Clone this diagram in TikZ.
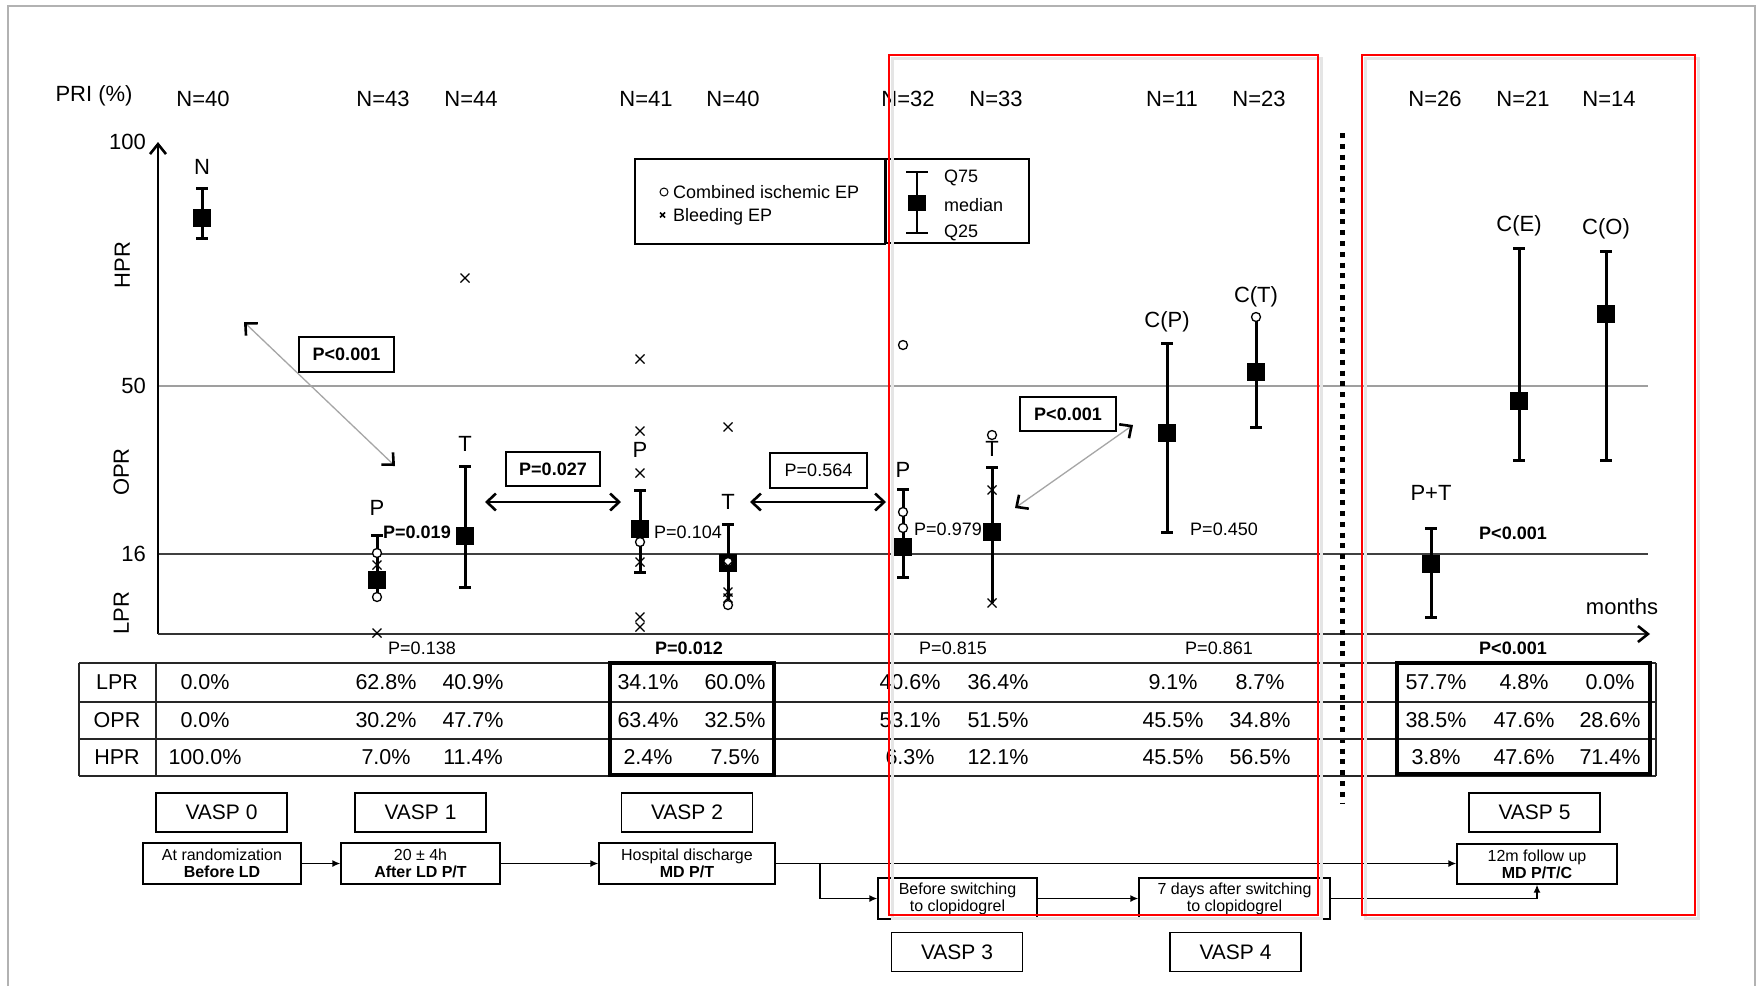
\documentclass[tikz,border=0pt]{standalone}
\usepackage{fontspec}
\setmainfont{Liberation Sans}
\usetikzlibrary{arrows.meta}
\newcommand\mkO[2]{\draw[line width=1.3pt,fill=white] (#1,#2) circle (4.5pt);}
\newcommand\mkX[2]{\draw[line width=1.2pt] (#1-4.5,#2-4.5)--(#1+4.5,#2+4.5) (#1-4.5,#2+4.5)--(#1+4.5,#2-4.5);}
\newcommand\wline[3]{\draw[whisk] (#1,#2)--(#1,#3);}
\newcommand\wcap[2]{\draw[whisk] (#1-6,#2)--(#1+6,#2);}
\newcommand\wmed[2]{\fill (#1-9,#2-9) rectangle (#1+9,#2+9);}
\newcommand\vals[4]{\node[val] (va#1) at (#1,682) {#2}; \node[val] (vb#1) at (#1,720) {#3}; \node[val] (vc#1) at (#1,757) {#4};}
\begin{document}
\begin{tikzpicture}[x=1pt,y=-1pt,
  whisk/.style={line width=3pt},
  lab/.style={font=\fontsize{22}{26}\selectfont, inner sep=0pt, text height=15.8pt, text depth=0pt},
  val/.style={font=\fontsize{21.5}{26}\selectfont, inner sep=0pt, text height=15.5pt, text depth=0pt},
  pv/.style={font=\fontsize{18}{22}\selectfont, inner sep=0pt, text height=13pt, text depth=0pt},
  pvb/.style={font=\fontsize{18}{22}\selectfont\bfseries, inner sep=0pt, text height=13pt, text depth=0pt},
  leg/.style={font=\fontsize{18}{22}\selectfont, inner sep=0pt, text height=13pt, text depth=0pt, anchor=west},
  pbox/.style={draw, line width=1.5pt, inner sep=0pt},
  vbox/.style={draw, line width=1.5pt, minimum width=131pt, minimum height=39pt, inner sep=0pt, font=\fontsize{21}{24}\selectfont},
  flowbox/.style={draw, line width=1.3pt, inner sep=0pt, align=center, font=\fontsize{16}{17}\selectfont},
  flow/.style={line width=1.4pt, -{Latex[length=8pt,width=7pt]}},
  barb/.style={{Straight Barb[length=9pt,width=17pt,line width=2.6pt,color=black]}-{Straight Barb[length=9pt,width=17pt,line width=2.6pt,color=black]}},
]
\useasboundingbox (0,0) rectangle (1758,986);
\fill[white] (0,0) rectangle (1758,986);
% outer frame
\draw[gray!60, line width=2pt] (8,986) -- (8,6) -- (1755,6) -- (1755,986);

% grid lines
\draw[gray!75, line width=2pt] (158,386) -- (1648,386);
\draw[black!75, line width=1.5pt] (158,554) -- (1648,554);
% axes
\draw[line width=2.2pt, -{Straight Barb[length=10pt,width=16pt,line width=2.6pt]}] (158,634) -- (158,142);
\draw[black!80, line width=2.2pt, -{Straight Barb[length=10pt,width=16pt,line width=2.6pt,color=black]}] (158,634) -- (1650,634);

% axis labels
\node[lab, anchor=east] (y100) at (146,142) {100};
\node[lab, anchor=east] (y50) at (146,386) {50};
\node[lab, anchor=east] (y16) at (146,554) {16};
\node[lab, rotate=90] (hpr) at (122,265) {HPR};
\node[lab, rotate=90] (opr) at (121,472) {OPR};
\node[lab, rotate=90] (lpr) at (121,613) {LPR};
\node[lab] (months) at (1622,607) {months};
\node[lab] (pri) at (94,94) {PRI (\%)};

% N labels
\node[lab] (n1) at (203,99) {N=40};
\node[lab] (n2) at (383,99) {N=43};
\node[lab] (n3) at (471,99) {N=44};
\node[lab] (n4) at (646,99) {N=41};
\node[lab] (n5) at (733,99) {N=40};
\node[lab] (n6) at (908,99) {N=32};
\node[lab] (n7) at (996,99) {N=33};
\node[lab] (n8) at (1172,99) {N=11};
\node[lab] (n9) at (1259,99) {N=23};
\node[lab] (n10) at (1435,99) {N=26};
\node[lab] (n11) at (1523,99) {N=21};
\node[lab] (n12) at (1609,99) {N=14};

% dotted separator
\draw[line width=5pt, dash pattern=on 5pt off 5.8pt] (1342,133) -- (1342,803);

% whiskers
\wline{202}{188}{238} \wcap{202}{188} \wcap{202}{238} \wmed{202}{218}
\wline{377}{535}{597} \wcap{377}{535} \wmed{377}{580}
\wline{465}{466}{587} \wcap{465}{466} \wcap{465}{587} \wmed{465}{536}
\wline{640}{490}{572} \wcap{640}{490} \wcap{640}{572} \wmed{640}{529}
\wline{728}{524}{600} \wcap{728}{524} \wmed{728}{563}
\wline{903}{489}{577} \wcap{903}{489} \wcap{903}{577} \wmed{903}{547}
\wline{992}{467}{603} \wcap{992}{467} \wmed{992}{532}
\wline{1167}{343}{532} \wcap{1167}{343} \wcap{1167}{532} \wmed{1167}{433}
\wline{1256}{317}{427} \wcap{1256}{427} \wmed{1256}{372}
\wline{1431}{528}{617} \wcap{1431}{528} \wcap{1431}{617} \wmed{1431}{564}
\wline{1519}{248}{460} \wcap{1519}{248} \wcap{1519}{460} \wmed{1519}{401}
\wline{1606}{251}{460} \wcap{1606}{251} \wcap{1606}{460} \wmed{1606}{314}

% markers
\mkO{377}{553} \mkX{377}{565} \mkO{377}{597} \mkX{377}{633}
\mkX{465}{278}
\mkX{640}{359} \mkX{640}{431} \mkX{640}{473} \mkO{640}{542} \mkX{640}{562} \mkX{640}{617} \mkX{640}{627}
\mkX{728}{427} \mkO{728}{562} \mkX{728}{566} \mkX{728}{592} \mkX{728}{598} \mkO{728}{605}
\mkO{903}{345} \mkO{903}{512} \mkO{903}{528}
\mkO{992}{435} \mkX{992}{490} \mkX{992}{603}
\mkO{1256}{317}

% group labels
\node[lab] (gN) at (202,167) {N};
\node[lab] (gP1) at (377,508) {P};
\node[lab] (gT1) at (465,444) {T};
\node[lab] (gP2) at (640,450) {P};
\node[lab] (gT2) at (728,502) {T};
\node[lab] (gP3) at (903,470) {P};
\node[lab] (gT3) at (992,449) {T};
\node[lab] (gCP) at (1167,320) {C(P)};
\node[lab] (gCT) at (1256,295) {C(T)};
\node[lab] (gPT) at (1431,493) {P+T};
\node[lab] (gCE) at (1519,224) {C(E)};
\node[lab] (gCO) at (1606,227) {C(O)};

% p values near data
\node[pvb, anchor=west] (p019) at (383,532) {P=0.019};
\node[pv] (p104) at (688,532) {P=0.104};
\node[pv] (p979) at (948,529) {P=0.979};
\node[pv] (p450) at (1224,529) {P=0.450};
\node[pvb] (p001r) at (1513,533) {P<0.001};
% p values under axis
\node[pv] (q138) at (422,648) {P=0.138};
\node[pvb] (q012) at (689,648) {P=0.012};
\node[pv] (q815) at (953,648) {P=0.815};
\node[pv] (q861) at (1219,648) {P=0.861};
\node[pvb] (q001) at (1513,648) {P<0.001};

% boxed p values and arrows
\coordinate (a1s) at (244,322); \coordinate (a1e) at (395,466);
\coordinate (a2s) at (485,502); \coordinate (a2e) at (621,502);
\coordinate (a3s) at (750,502); \coordinate (a3e) at (886,502);
\coordinate (a4s) at (1015,508); \coordinate (a4e) at (1133,425);
\draw[gray!70, line width=1.3pt, barb] (a1s) -- (a1e);
\draw[line width=1.5pt, barb] (a2s) -- (a2e);
\draw[line width=1.5pt, barb] (a3s) -- (a3e);
\draw[gray!70, line width=1.3pt, barb] (a4s) -- (a4e);
\node[pbox, fill=white, minimum width=95pt, minimum height=35pt, font=\fontsize{18}{22}\selectfont\bfseries] (bx1) at (346.5,354.5) {P<0.001};
\node[pbox, fill=white, minimum width=94pt, minimum height=34pt, font=\fontsize{18}{22}\selectfont\bfseries] (bx2) at (553,469) {P=0.027};
\node[pbox, fill=white, minimum width=97pt, minimum height=35pt, font=\fontsize{18}{22}\selectfont] (bx3) at (818.5,470.5) {P=0.564};
\node[pbox, fill=white, minimum width=96pt, minimum height=34pt, font=\fontsize{18}{22}\selectfont\bfseries] (bx4) at (1068,414) {P<0.001};

% legends
\draw[line width=1.6pt] (635,159) rectangle (885,244);
\draw[line width=1.6pt] (886,159) rectangle (1029,243);
\draw[line width=1pt] (664,192) circle (4pt);
\draw[line width=1.6pt] (660,212.5) -- (665,217.5) (660,217.5) -- (665,212.5);
\node[leg] (lg1) at (673,192) {Combined ischemic EP};
\node[leg] (lg2) at (673,215) {Bleeding EP};
\draw[line width=1.2pt] (917,172) -- (917,233) (906,172) -- (928,172) (906,233) -- (928,233);
\fill (908,195) rectangle (926,211);
\node[leg] (lq75) at (944,176) {Q75};
\node[leg] (lmed) at (944,205) {median};
\node[leg] (lq25) at (944,231) {Q25};

% table
\draw[black!85, line width=1.5pt] (79,663) -- (1656,663) (79,702) -- (1656,702) (79,739) -- (1656,739) (79,776) -- (1656,776);
\draw[black!85, line width=1.5pt] (79,663) -- (79,776) (156,663) -- (156,776) (1656,663) -- (1656,776);
\node[val] (rl1) at (117,682) {LPR};
\node[val] (rl2) at (117,720) {OPR};
\node[val] (rl3) at (117,757) {HPR};
\vals{205}{0.0\%}{0.0\%}{100.0\%}
\vals{386}{62.8\%}{30.2\%}{7.0\%}
\vals{473}{40.9\%}{47.7\%}{11.4\%}
\vals{648}{34.1\%}{63.4\%}{2.4\%}
\vals{735}{60.0\%}{32.5\%}{7.5\%}
\vals{910}{40.6\%}{53.1\%}{6.3\%}
\vals{998}{36.4\%}{51.5\%}{12.1\%}
\vals{1173}{9.1\%}{45.5\%}{45.5\%}
\vals{1260}{8.7\%}{34.8\%}{56.5\%}
\vals{1436}{57.7\%}{38.5\%}{3.8\%}
\vals{1524}{4.8\%}{47.6\%}{47.6\%}
\vals{1610}{0.0\%}{28.6\%}{71.4\%}
\draw[line width=4.5pt] (610,663) rectangle (774,775);
\draw[line width=4.5pt] (1397,663) rectangle (1650,774);

% VASP labels
\node[vbox] (V0) at (221.5,812.5) {VASP 0};
\node[vbox] (V1) at (420.5,812.5) {VASP 1};
\node[vbox] (V2) at (687,812.5) {VASP 2};
\node[vbox] (V3) at (957,952) {VASP 3};
\node[vbox] (V4) at (1235.5,952) {VASP 4};
\node[vbox] (V5) at (1534.5,812.5) {VASP 5};

% flow boxes
\node[flowbox, minimum width=158pt, minimum height=41pt] (B0) at (222,863.5) {At randomization\\\textbf{Before LD}};
\node[flowbox, minimum width=159pt, minimum height=41pt] (B1) at (420.5,863.5) {20 ± 4h\\\textbf{After LD P/T}};
\node[flowbox, minimum width=176pt, minimum height=41pt] (B2) at (687,863.5) {Hospital discharge\\\textbf{MD P/T}};
\node[flowbox, minimum width=159pt, minimum height=41pt] (B3) at (957.5,898.5) {Before switching\\to clopidogrel};
\node[flowbox, minimum width=191pt, minimum height=41pt] (B4) at (1234.5,898.5) {7 days after switching\\to clopidogrel};
\node[flowbox, minimum width=160pt, minimum height=40pt] (B5) at (1537,864) {12m follow up\\\textbf{MD P/T/C}};
\coordinate (br) at (820,863.5);
\draw[flow] (B0.east) -- (B1.west);
\draw[flow] (B1.east) -- (B2.west);
\draw[flow] (B2.east) -- (B2.east -| B5.west);
\draw[flow] (br) |- (B3.west);
\draw[flow] (B3.east) -- (B4.west);
\draw[flow] (B4.east) -| (B5.south);

% red boxes
\draw[black!10, line width=3pt] (892,58) rectangle (1321,918);
\draw[black!10, line width=3pt] (1365,58) rectangle (1698,918);
\draw[red, line width=2pt] (889,55) rectangle (1318,915);
\draw[red, line width=2pt] (1362,55) rectangle (1695,915);
\end{tikzpicture}
\end{document}
